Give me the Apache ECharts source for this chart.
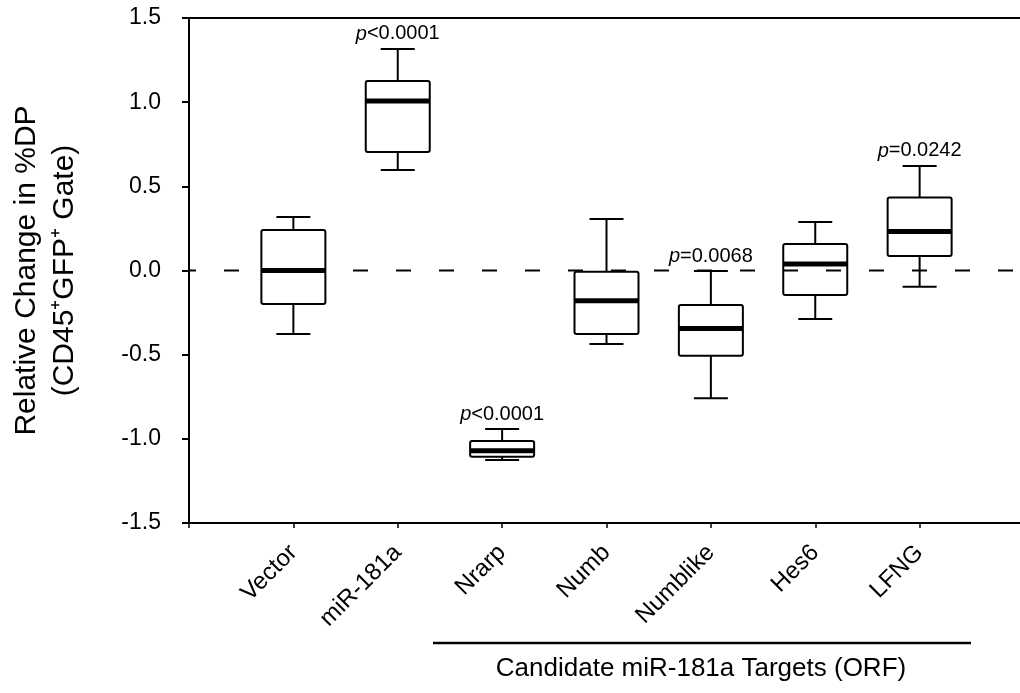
<!DOCTYPE html>
<html>
<head>
<meta charset="utf-8">
<script src="https://cdn.jsdelivr.net/npm/echarts@6/dist/echarts.min.js"></script>
<style>
  html, body { margin: 0; padding: 0; background: #fff; overflow: hidden; }
  #main { width: 1040px; height: 693px; }
</style>
</head>
<body>
<div id="main"></div>
<script>
// box plot values
var categories = ['Vector', 'miR-181a', 'Nrarp', 'Numb', 'Numblike', 'Hes6', 'LFNG'];
var whiskerLow = [-0.377, 0.597, -1.126, -0.437, -0.759, -0.288, -0.096];
var quart1 = [-0.199, 0.704, -1.106, -0.377, -0.506, -0.146, 0.086];
var medians = [0.0, 1.007, -1.071, -0.18, -0.344, 0.039, 0.231];
var quart3 = [0.24, 1.126, -1.013, -0.007, -0.205, 0.157, 0.433];
var whiskerHigh = [0.318, 1.316, -0.942, 0.306, -0.003, 0.288, 0.621];
var pLabels = ['', 'p<0.0001', 'p<0.0001', '', 'p=0.0068', '', 'p=0.0242'];
var refLine = [0, 0];

var font = "'Liberation Sans', Arial, sans-serif";

// empty slots at both ends so the boxes sit one step away from the axes
var axisCats = [''].concat(categories, ['']);

var boxData = categories.map(function (c, i) {
    return [i + 1, whiskerLow[i], quart1[i], medians[i], quart3[i], whiskerHigh[i]];
});

function renderBox(params, api) {
    var x = api.value(0);
    var pLow = api.coord([x, api.value(1)]);
    var pQ1 = api.coord([x, api.value(2)]);
    var pMed = api.coord([x, api.value(3)]);
    var pQ3 = api.coord([x, api.value(4)]);
    var pHigh = api.coord([x, api.value(5)]);
    var cx = pMed[0];
    var half = 32, cap = 17;
    var stroke = { stroke: '#000', lineWidth: 2, fill: null };
    var kids = [
        { type: 'rect', shape: { x: cx - half, y: pQ3[1], width: half * 2, height: pQ1[1] - pQ3[1], r: 2 }, style: stroke },
        { type: 'line', shape: { x1: cx, y1: pQ3[1], x2: cx, y2: pHigh[1] }, style: stroke },
        { type: 'line', shape: { x1: cx, y1: pQ1[1], x2: cx, y2: pLow[1] }, style: stroke },
        { type: 'line', shape: { x1: cx - cap, y1: pHigh[1], x2: cx + cap, y2: pHigh[1] }, style: stroke },
        { type: 'line', shape: { x1: cx - cap, y1: pLow[1], x2: cx + cap, y2: pLow[1] }, style: stroke },
        { type: 'line', shape: { x1: cx - half, y1: pMed[1], x2: cx + half, y2: pMed[1] }, style: { stroke: '#000', lineWidth: 5 } }
    ];
    var lab = pLabels[params.dataIndex];
    if (lab) {
        kids.push({
            type: 'text',
            style: {
                text: '{i|' + lab.charAt(0) + '}' + lab.slice(1),
                x: cx, y: pHigh[1] - 15,
                align: 'center', verticalAlign: 'middle',
                fontSize: 20, fontFamily: font, fill: '#000',
                rich: { i: { fontStyle: 'italic', fontSize: 20, fontFamily: font } }
            }
        });
    }
    return { type: 'group', children: kids };
}

var myChart = echarts.init(document.getElementById('main'));
myChart.setOption({
    backgroundColor: '#fff',
    animation: false,
    grid: {
        left: 188, width: 836, top: 18, bottom: 170,
        show: true, borderColor: '#000', borderWidth: 2, backgroundColor: 'transparent'
    },
    xAxis: {
        type: 'category',
        data: axisCats,
        boundaryGap: false,
        axisLine: { onZero: false, lineStyle: { color: '#000', width: 2 } },
        axisTick: { show: true, length: 5, lineStyle: { color: '#000', width: 1.5 } },
        axisLabel: {
            interval: 0, rotate: 45, margin: 26,
            color: '#000', fontSize: 24, fontFamily: font
        },
        splitLine: { show: false }
    },
    yAxis: {
        type: 'value',
        min: -1.5, max: 1.5, interval: 0.5,
        name: 'Relative Change in %DP\n(CD45\u207AGFP\u207A Gate)',
        nameLocation: 'middle',
        nameRotate: 90,
        nameGap: 105,
        nameTextStyle: { color: '#000', fontSize: 30, fontFamily: font, lineHeight: 38 },
        axisLine: { show: true, lineStyle: { color: '#000', width: 2 } },
        axisTick: { show: true, length: 7, lineStyle: { color: '#000', width: 2 } },
        axisLabel: {
            margin: 28, color: '#000', fontSize: 23, fontFamily: font,
            formatter: function (v) { return v.toFixed(1); }
        },
        splitLine: { show: false }
    },
    series: [
        {
            type: 'line',
            data: [[0, refLine[0]], [axisCats.length - 1, refLine[1]]],
            symbol: 'none',
            silent: true,
            z: 1,
            lineStyle: { color: '#000', width: 1.8, type: [15, 28], dashOffset: 8 }
        },
        {
            type: 'custom',
            renderItem: renderBox,
            data: boxData,
            encode: { x: 0, y: [1, 2, 3, 4, 5] },
            z: 3
        }
    ],
    graphic: [
        {
            type: 'line',
            shape: { x1: 433, y1: 643, x2: 971, y2: 643 },
            style: { stroke: '#000', lineWidth: 2.5 }
        },
        {
            type: 'text',
            x: 701, y: 669,
            style: {
                text: 'Candidate miR-181a Targets (ORF)',
                align: 'center', verticalAlign: 'middle',
                fontSize: 26, fontFamily: font, fill: '#000'
            }
        }
    ]
});
</script>
</body>
</html>
